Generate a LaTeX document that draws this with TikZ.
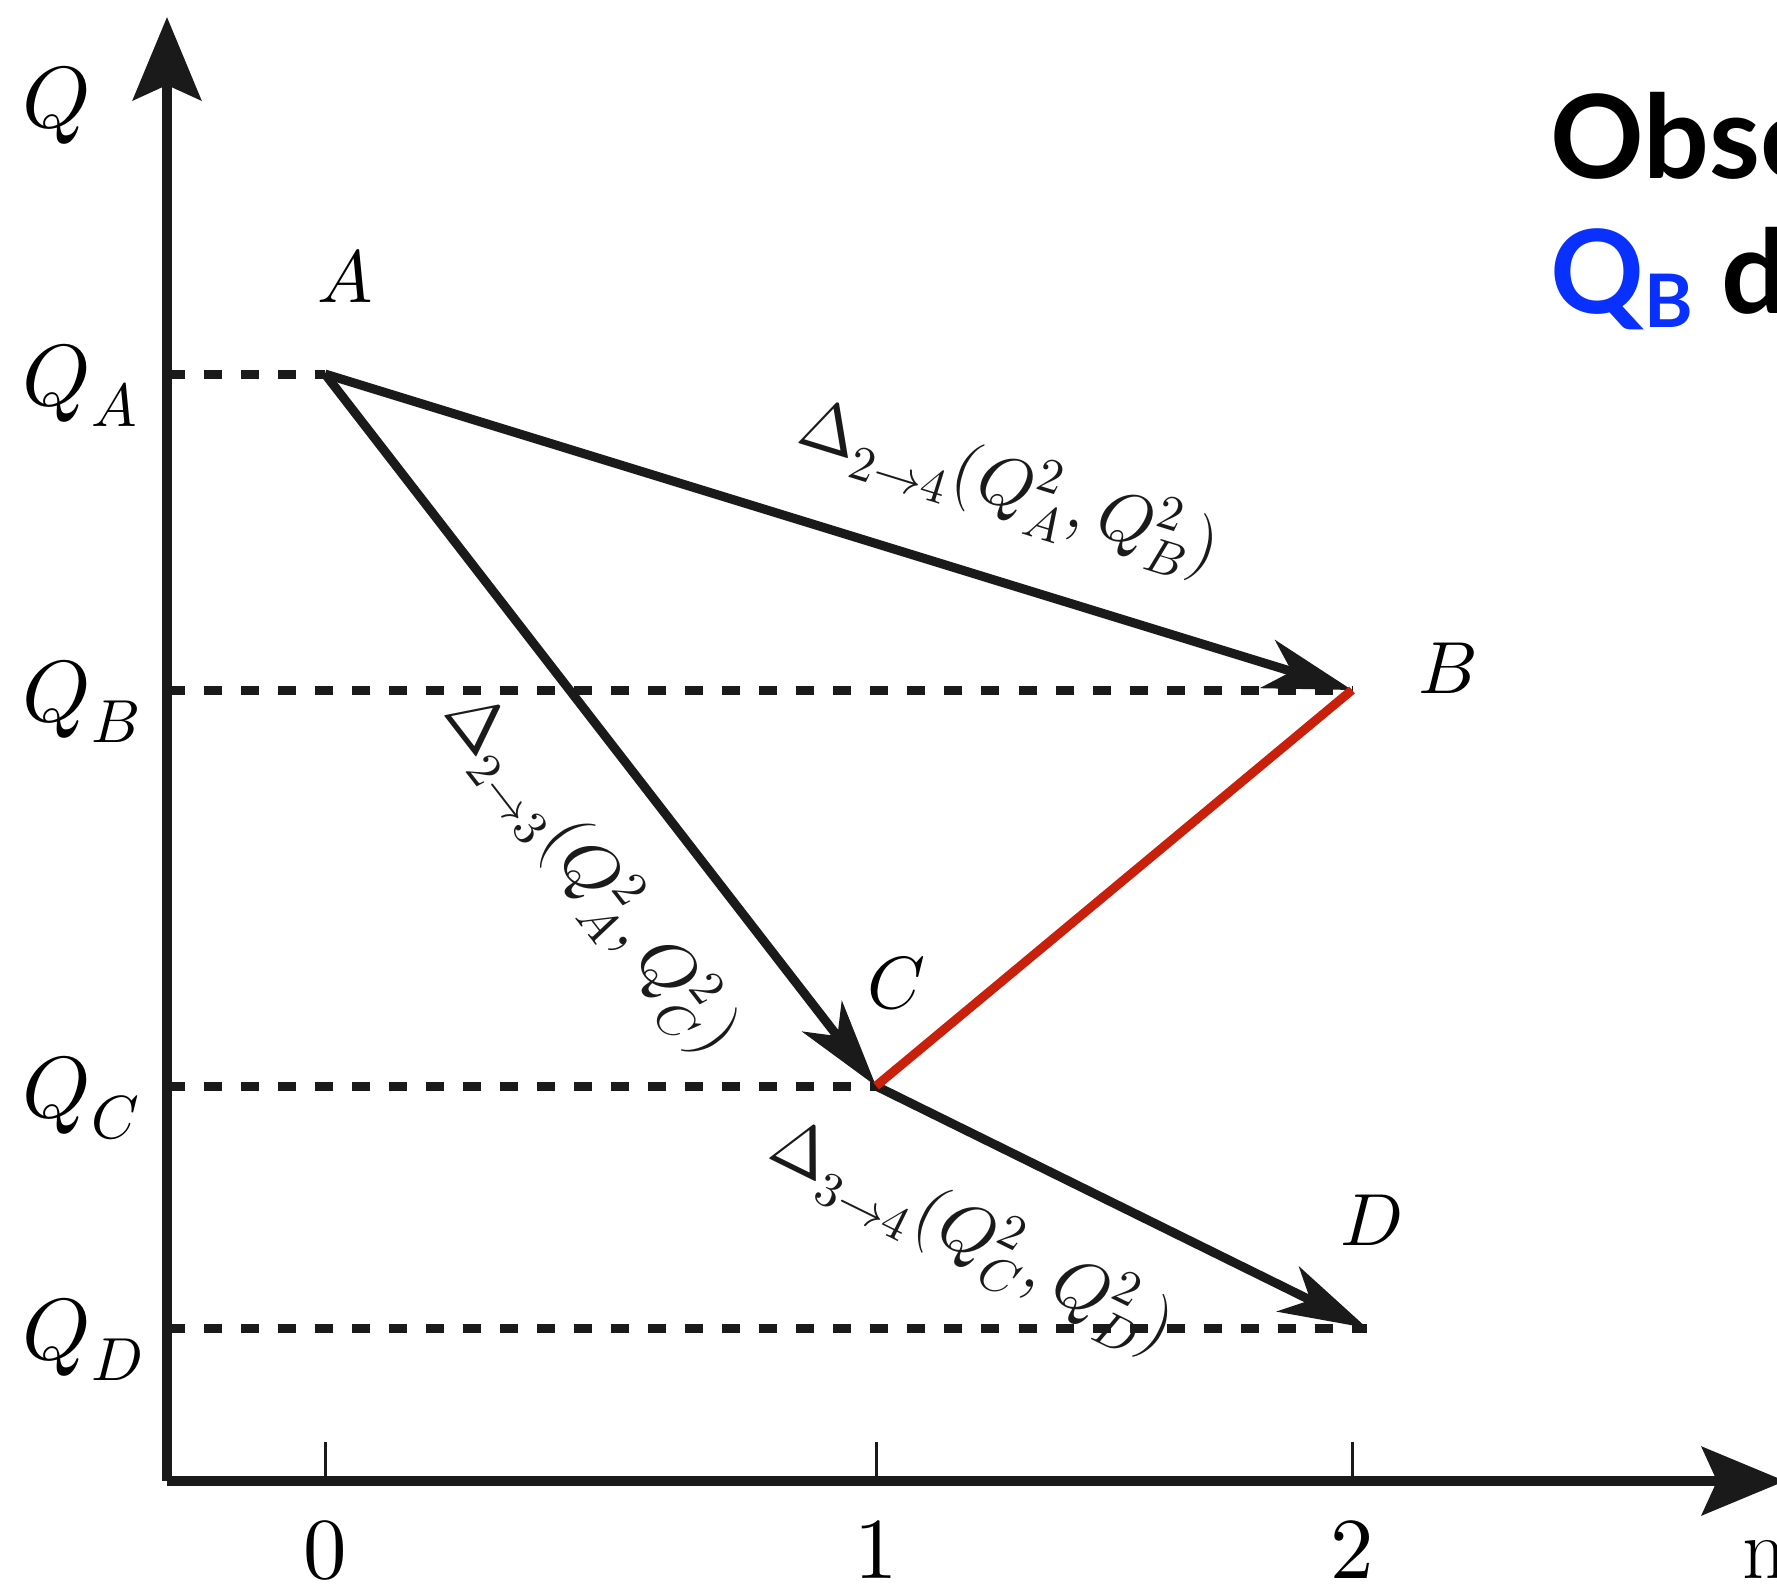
\documentclass[tikz,border=0pt]{standalone}
\usepackage{unicode-math}
\setmathfont{Latin Modern Math}
\newfontfamily\slidefont{Lato}
\usetikzlibrary{positioning, arrows.meta, calc}
\definecolor{InkBlack}{RGB}{26, 26, 26}
\definecolor{FlowRed}{RGB}{200, 32, 10}
\definecolor{SlideBlue}{RGB}{8, 48, 255}

\begin{document}
\begin{tikzpicture}[x=0.01cm, y=-0.01cm,
    axis/.style={InkBlack, line width=0.1cm, -{Stealth[length=0.83cm, width=0.68cm, inset=0.15cm]}},
    flow/.style={InkBlack, line width=0.09cm, -{Stealth[length=0.88cm, width=0.5cm, inset=0.25cm]}},
    guide/.style={InkBlack, line width=0.09cm, dash pattern=on 0.18cm off 0.19cm},
    axistick/.style={InkBlack, line width=0.03cm},
    axlab/.style={font=\fontsize{24.7}{30}\selectfont},
    lab/.style={font=\fontsize{21}{25}\selectfont},
    run/.style={font=\fontsize{20}{24}\selectfont, sloped},
    slide/.style={anchor=base west, inner sep=0, font=\slidefont\bfseries\fontsize{33}{40}\selectfont}]
    \useasboundingbox (0,0) rectangle (1777,1585);
    \clip (0,0) rectangle (1777,1585);

    % Axes
    \coordinate (O) at (167,1481);
    \draw[axis] (O) -- (167,17);
    \draw[axis] (O) -- (1785,1481);
    \node[axlab, anchor=base west] (qlab) at (10,128) {$Q$};
    \node[axlab, anchor=base west] (nlab) at (1730,1578) {n};

    % States
    \coordinate (A) at (325,374);
    \coordinate (B) at (1352,690);
    \coordinate (C) at (876,1086);
    \coordinate (D) at (1367,1328);

    \foreach \k/\p in {0/A, 1/C, 2/B}{
      \draw[axistick] (\p |- O) -- ++(0,-39);
      \node[axlab, anchor=base] (n\k) at ($(\p |- O)+(0,97)$) {$\k$};
    }

    % Levels
    \foreach \p in {A, B, C, D}{
      \draw[guide] (O |- \p) -- (\p);
      \node[axlab, anchor=base west] (q\p) at ($(O |- \p)+(-157,31)$) {$Q_\p$};
    }

    \node[lab, anchor=base] (lA) at ($(A)+(20,-72)$) {$A$};
    \node[lab, anchor=base] (lB) at ($(B)+(95,3)$) {$B$};
    \node[lab, anchor=base] (lC) at ($(C)+(21,-78)$) {$C$};
    \node[lab, anchor=base] (lD) at ($(D)+(4,-83)$) {$D$};

    % Flows
    \draw[flow] (A) -- (B) node[run, pos=0.64, above=0.36cm] (d24) {$\Delta_{2\to4}(Q_A^2, Q_B^2)$};
    \draw[flow] (A) -- (C) node[run, pos=0.62, below=0.4cm] (d23) {$\Delta_{2\to3}(Q_A^2, Q_C^2)$};
    \draw[flow] (C) -- (D) node[run, pos=0.28, below=0.38cm] (d34) {$\Delta_{3\to4}(Q_C^2, Q_D^2)$};
    \draw[FlowRed, line width=0.09cm] (B) -- (C);

    % Slide text
    \node[slide] (obs) at (1550,178) {Obse};
    \node[slide] (dep) at (1550,313)
      {{\color{SlideBlue}Q\raisebox{-4pt}{\fontsize{21}{25}\selectfont B}} d};
  \end{tikzpicture}
\end{document}
